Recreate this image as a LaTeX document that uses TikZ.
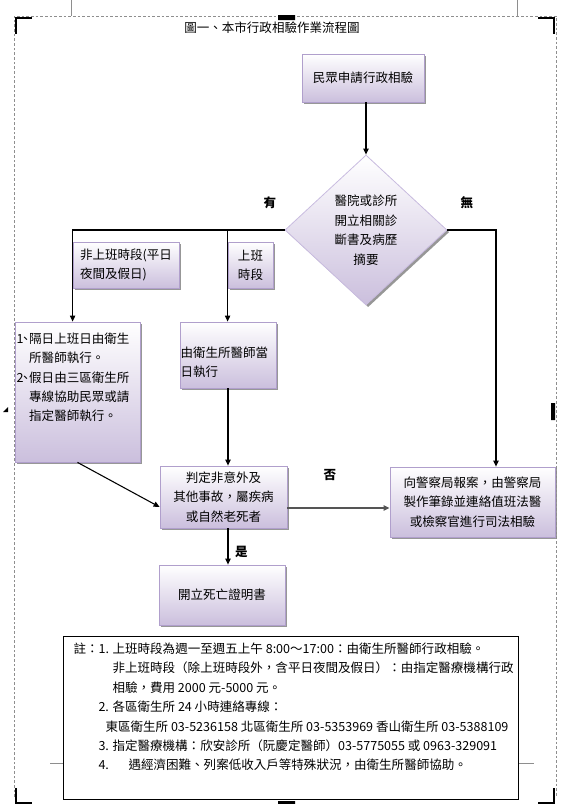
\documentclass[tikz,border=0pt]{standalone}
\usepackage{fontspec}
\setmainfont{Noto Sans CJK TC}
\usetikzlibrary{arrows.meta, shapes.geometric, shadows}
\definecolor{cbox}{HTML}{CBBFDD}
\definecolor{cboxline}{HTML}{B09FCC}
\definecolor{cdiamline}{HTML}{C9BCE0}
\definecolor{cshadow}{HTML}{8C8C8C}
\definecolor{cpage}{HTML}{8E8E8E}
\definecolor{cgreyline}{HTML}{555555}
\newcommand{\tsz}{\fontsize{9.4pt}{14.6pt}\selectfont}
\newcommand{\hangno}[1]{\makebox[9.5pt][l]{#1\hspace{-3pt}、}}
\tikzset{
  every picture/.style={line width=0.8pt},
  box/.style={draw=cboxline, line width=0.6pt, top color=white, bottom color=cbox, inner sep=0pt, align=center, font=\tsz,
    drop shadow={shadow xshift=1.6pt, shadow yshift=-1.6pt, fill=cshadow, opacity=0.9}},
  lbl/.style={box, align=left},
  txt/.style={font=\tsz, align=left, inner sep=0pt, anchor=north west},
  choice/.style={font=\tsz\bfseries},
  arrow/.style={-{Triangle[length=4.5pt, width=4pt]}, draw=black},
  page/.style={draw=cpage, line width=0.6pt},
  crop/.style={draw=black, line width=2.2pt},
}
\begin{document}
\begin{tikzpicture}[x=0.75pt, y=-0.75pt]
  \useasboundingbox (0,0) rectangle (571,804);
  % page frame
  \draw[page, dash pattern=on 2pt off 1.5pt] (14,797) -- (14,16) -- (556,16) -- (556,797);
  \draw[page] (71,0) -- (71,16) (517,0) -- (517,16) (50,763) -- (63,763) (518,763) -- (534,763);
  \draw[crop] (16,34) -- (16,18) -- (32,18) (538,18) -- (554,18) -- (554,34)
    (16,788) -- (16,803) -- (32,803) (538,803) -- (554,803) -- (554,788);
  \fill (278,15) rectangle (295,20) (278,801) rectangle (295,804) (15,405) rectangle (18,420)
    (551,403) rectangle (555,420) (3,412) -- (8,412) -- (8,407) -- cycle;

  \node[font=\tsz] (title) at (272,28) {圖一、本市行政相驗作業流程圖};
  \node[box, minimum width=91.5pt, minimum height=36pt] (apply) at (363,78) {民眾申請行政相驗};
  \node[box, shape=diamond, draw=cdiamline, minimum width=121.5pt, minimum height=112.5pt] (report) at (366,230)
    {醫院或診所\\開立相關診\\斷書及病歷\\摘要};
  \node[lbl, minimum width=79.5pt, minimum height=34.5pt] (offhrs) at (126,265) {非上班時段(平日\\夜間及假日)};
  \node[lbl, minimum width=33.75pt, minimum height=34.5pt] (onhrs) at (250.5,265) {上班\\時段};
  \node[box, minimum width=93.75pt, minimum height=105pt] (holiday) at (77.5,392) {};
  \node[txt] (holidaytxt) at (16,332) {\hangno{1}隔日上班日由衛生\\\hspace*{9.5pt}所醫師執行。\\\hangno{2}假日由三區衛生所\\\hspace*{9.5pt}專線協助民眾或請\\\hspace*{9.5pt}指定醫師執行。};
  \node[box, minimum width=72pt, minimum height=49.5pt] (dayshift) at (228,355) {};
  \node[txt] (dayshifttxt) at (180,346) {由衛生所醫師當\\日執行};
  \node[box, minimum width=95.25pt, minimum height=46.5pt] (judge) at (223.5,497) {判定非意外及\\其他事故，屬疾病\\或自然老死者};
  \node[box, minimum width=94.5pt, minimum height=45pt] (cert) at (222,595) {開立死亡證明書};
  \node[box, minimum width=123.75pt, minimum height=52.5pt] (police) at (472.5,502)
    {向警察局報案，由警察局\\製作筆錄並連絡值班法醫\\或檢察官進行司法相驗};

  \node[choice] (has) at (270,203) {有};
  \node[choice] (hasnot) at (467,203) {無};
  \node[choice] (no) at (330,475) {否};
  \node[choice] (yes) at (241.5,552) {是};

  \coordinate (turn) at (496,230);
  \draw[arrow] (report.north |- apply.south) -- (report.north);
  \draw[arrow] (report.west) -| (offhrs.north west) -- (offhrs.west |- holiday.north);
  \draw[arrow] (onhrs.west |- report.west) -- (onhrs.west |- dayshift.north);
  \draw[arrow] (report.east) -- (turn) -- (turn |- police.north);
  \draw[arrow] (dayshift.south) -- (dayshift.south |- judge.north);
  \draw[arrow] (holiday.south) -- ([yshift=-7.5pt]judge.west);
  \draw[arrow] (dayshift.south |- judge.south) -- (dayshift.south |- cert.north);
  \draw[arrow, draw=cgreyline, line width=1.2pt] ([yshift=-8.25pt]judge.east) -- ([yshift=-8.25pt]judge.east -| police.west);

  \node[draw=black, line width=0.6pt, fill=white, minimum width=341.25pt, minimum height=122.25pt, inner sep=0pt] (notes) at (290.5,717.5) {};
  \node[txt] (notestxt) at (73,642) {註：\makebox[10.5pt][l]{1.}上班時段為週一至週五上午 8:00～17:00：由衛生所醫師行政相驗。\\
    \hspace*{29.25pt}非上班時段（除上班時段外，含平日夜間及假日）：由指定醫療機構行政\\
    \hspace*{29.25pt}相驗，費用 2000 元-5000 元。\\
    \hspace*{18.75pt}\makebox[10.5pt][l]{2.}各區衛生所 24 小時連絡專線：\\
    \hspace*{24pt}東區衛生所 03-5236158\ 北區衛生所 03-5353969\ 香山衛生所 03-5388109\\
    \hspace*{18.75pt}\makebox[10.5pt][l]{3.}指定醫療機構：欣安診所（阮慶定醫師）03-5775055 或 0963-329091\\
    \hspace*{18.75pt}\makebox[10.5pt][l]{4.}\hspace{12pt}遇經濟困難、列案低收入戶等特殊狀況，由衛生所醫師協助。};
\end{tikzpicture}
\end{document}
